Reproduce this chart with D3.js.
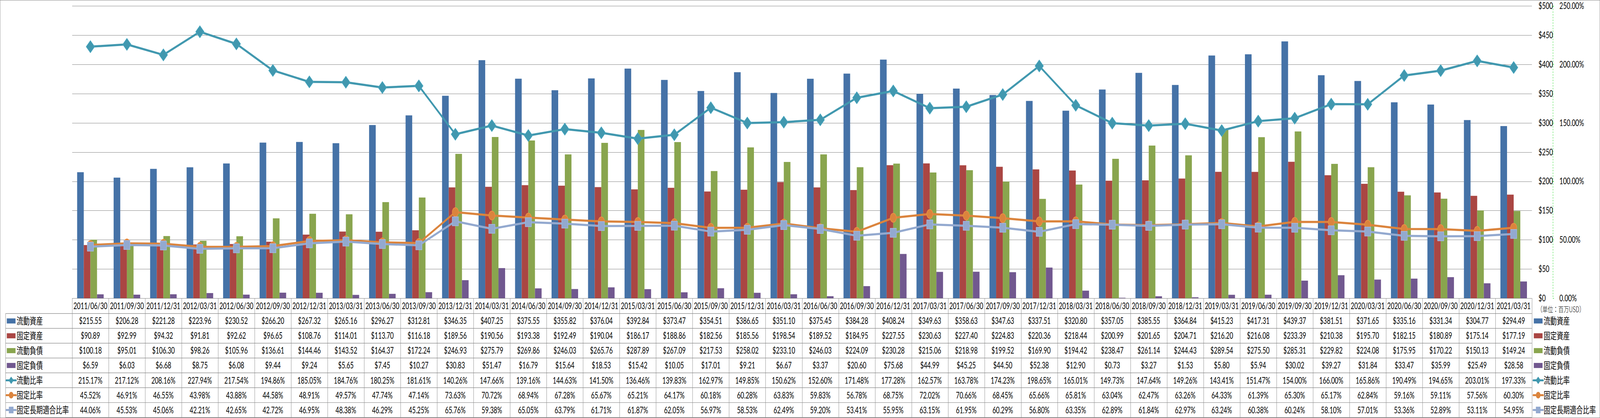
<!DOCTYPE html>
<html>
<head>
<meta charset="utf-8">
<script src="https://cdn.jsdelivr.net/npm/d3@7"></script>
<style>
  html, body { margin: 0; padding: 0; width: 100%; height: 100%; overflow: hidden; background: #fff; }
  #chart { display: block; width: 100vw; height: 100vh; }
  text { font-family: Lato, "Noto Sans CJK JP", sans-serif; fill: #000; }
  .jp { font-family: "Noto Sans CJK JP", sans-serif; }
</style>
</head>
<body>
<svg id="chart" viewBox="0 0 5876 1071" preserveAspectRatio="none"></svg>
<script>
'use strict';

var dates = ['2011/06/30','2011/09/30','2011/12/31','2012/03/31','2012/06/30','2012/09/30','2012/12/31','2013/03/31',
  '2013/06/30','2013/09/30','2013/12/31','2014/03/31','2014/06/30','2014/09/30','2014/12/31','2015/03/31',
  '2015/06/30','2015/09/30','2015/12/31','2016/03/31','2016/06/30','2016/09/30','2016/12/31','2017/03/31',
  '2017/06/30','2017/09/30','2017/12/31','2018/03/31','2018/06/30','2018/09/30','2018/12/31','2019/03/31',
  '2019/06/30','2019/09/30','2019/12/31','2020/03/31','2020/06/30','2020/09/30','2020/12/31','2021/03/31'];

var currentAssets = [215.55,206.28,221.28,223.96,230.52,266.20,267.32,265.16,296.27,312.81,346.35,407.25,375.55,355.82,376.04,392.84,
  373.47,354.51,386.65,351.10,375.45,384.28,408.24,349.63,358.63,347.63,337.51,320.80,357.05,385.55,364.84,415.23,
  417.31,439.37,381.51,371.65,335.16,331.34,304.77,294.49];
var fixedAssets = [90.89,92.99,94.32,91.81,92.62,96.65,108.76,114.01,113.70,116.18,189.56,190.56,193.38,192.49,190.04,186.17,
  188.86,182.56,185.56,198.54,189.52,184.95,227.55,230.63,227.40,224.83,220.36,218.44,200.99,201.65,204.71,216.20,
  216.08,233.39,210.38,195.70,182.15,180.89,175.14,177.19];
var currentLiabilities = [100.18,95.01,106.30,98.26,105.96,136.61,144.46,143.52,164.37,172.24,246.93,275.79,269.86,246.03,265.76,287.89,
  267.09,217.53,258.02,233.10,246.03,224.09,230.28,215.06,218.98,199.52,169.90,194.42,238.47,261.14,244.43,289.54,
  275.50,285.31,229.82,224.08,175.95,170.22,150.13,149.24];
var fixedLiabilities = [6.59,6.03,6.68,8.75,6.08,9.44,9.24,5.65,7.45,10.27,30.83,51.47,16.79,15.64,18.53,15.42,
  10.05,17.01,9.21,6.67,3.37,20.60,75.68,44.99,45.25,44.50,52.38,12.90,0.73,3.27,1.53,5.80,
  5.94,30.02,39.27,31.84,33.47,35.99,25.49,28.58];
var currentRatio = [215.17,217.12,208.16,227.94,217.54,194.86,185.05,184.76,180.25,181.61,140.26,147.66,139.16,144.63,141.50,136.46,
  139.83,162.97,149.85,150.62,152.60,171.48,177.28,162.57,163.78,174.23,198.65,165.01,149.73,147.64,149.26,143.41,
  151.47,154.00,166.00,165.86,190.49,194.65,203.01,197.33];
var fixedRatio = [45.52,46.91,46.55,43.98,43.88,44.58,48.91,49.57,47.74,47.14,73.63,70.72,68.94,67.28,65.67,65.21,
  64.17,60.18,60.28,63.83,59.83,56.78,68.75,72.02,70.66,68.45,65.66,65.81,63.04,62.47,63.26,64.33,
  61.39,65.30,65.17,62.84,59.16,59.11,57.56,60.30];
var fixedLongTermRatio = [44.06,45.53,45.06,42.21,42.65,42.72,46.95,48.38,46.29,45.25,65.76,59.38,65.05,63.79,61.71,61.87,
  62.05,56.97,58.53,62.49,59.20,53.41,55.95,63.15,61.95,60.29,56.80,63.35,62.89,61.84,62.97,63.24,
  60.38,60.24,58.10,57.01,53.36,52.89,53.11,54.95];

var dollarTicks = [0,50,100,150,200,250,300,350,400,450,500];
var percentTicks = [0,50,100,150,200,250];
var unitLabel = '（単位：百万USD）';

var barSeries = [
  {name: '流動資産', values: currentAssets, color: '#4572A7'},
  {name: '固定資産', values: fixedAssets, color: '#AA4643'},
  {name: '流動負債', values: currentLiabilities, color: '#89A54E'},
  {name: '固定負債', values: fixedLiabilities, color: '#71588F'}
];
var lineSeries = [
  {name: '流動比率', values: currentRatio, color: '#4198AF', marker: 'diamond'},
  {name: '固定比率', values: fixedRatio, color: '#DB843D', marker: 'circle'},
  {name: '固定長期適合比率', values: fixedLongTermRatio, color: '#93A9CF', marker: 'square'}
];

var svg = d3.select('#chart'),
    plot = {left: 265, right: 5626, top: 15.3, bottom: 764},
    grid = '#868686',
    headerBottom = 803.3,
    rowH = 38.03;

var x = d3.scaleBand().domain(dates).range([plot.left, plot.right]),
    xs = d3.scaleBand().domain(barSeries.map(function(s) { return s.name; }))
      .range([0, x.bandwidth()]).paddingOuter(0.75),
    y = d3.scaleLinear().domain([0, 500]).range([plot.bottom, plot.top]),
    yPct = d3.scaleLinear().domain([0, 250]).range([plot.bottom, plot.top]);

var money = function(v) { return '$' + d3.format('.2f')(v); },
    pct = function(v) { return d3.format('.2f')(v) + '%'; };

svg.append('rect')
  .attr('x', 0.5).attr('y', 0.5).attr('width', 5875).attr('height', 1070)
  .attr('fill', '#fff').attr('stroke', grid);

// horizontal gridlines
svg.append('g').selectAll('line')
  .data(dollarTicks.filter(function(d) { return d > 0; }))
  .enter().append('line')
    .attr('x1', plot.left).attr('x2', plot.right)
    .attr('y1', function(d) { return Math.round(y(d)) + 0.5; })
    .attr('y2', function(d) { return Math.round(y(d)) + 0.5; })
    .attr('stroke', grid).attr('stroke-width', 1.2);

// bars
var cats = svg.append('g').selectAll('g')
  .data(dates)
  .enter().append('g')
    .attr('transform', function(d) { return 'translate(' + x(d) + ',0)'; });

cats.selectAll('rect')
  .data(function(d, i) { return barSeries.map(function(s) { return {s: s, v: s.values[i]}; }); })
  .enter().append('rect')
    .attr('x', function(d) { return xs(d.s.name); })
    .attr('width', xs.bandwidth())
    .attr('y', function(d) { return y(d.v); })
    .attr('height', function(d) { return plot.bottom - y(d.v); })
    .attr('fill', function(d) { return d.s.color; });

// dollar axis (labels only)
var axL = svg.append('g')
  .attr('transform', 'translate(5650,0)')
  .call(d3.axisRight(y).tickValues(dollarTicks).tickSize(0).tickPadding(0)
    .tickFormat(function(d) { return '$' + d; }));
axL.select('.domain').remove();
axL.selectAll('text').attr('font-size', 23).attr('font-family', 'Lato').attr('fill', '#000');

// percent axis
var axR = svg.append('g')
  .attr('transform', 'translate(5703,0)')
  .call(d3.axisRight(yPct).tickValues(percentTicks).tickSizeInner(4).tickSizeOuter(4).tickPadding(20)
    .tickFormat(pct));
axR.select('.domain').attr('stroke', '#22DD22').attr('stroke-dasharray', '4,3').attr('stroke-width', 1.2);
axR.selectAll('.tick line').attr('stroke', '#22DD22').attr('stroke-width', 1.2);
axR.selectAll('text').attr('font-size', 23).attr('font-family', 'Lato').attr('fill', '#000');

function markerPath(type, r) {
  if (type === 'diamond') return 'M0,' + (-r) + 'L' + r + ',0L0,' + r + 'L' + (-r) + ',0Z';
  if (type === 'square') return 'M' + (-r) + ',' + (-r) + 'h' + (2 * r) + 'v' + (2 * r) + 'h' + (-2 * r) + 'Z';
  return d3.symbol().type(d3.symbolCircle).size(Math.PI * r * r)();
}
var markerR = {diamond: 15.5, circle: 11.5, square: 11.5};

// ratio lines
var line = d3.line()
  .x(function(d, i) { return x(dates[i]) + x.bandwidth() / 2; })
  .y(function(d) { return yPct(d); });

lineSeries.forEach(function(s) {
  var g = svg.append('g');
  g.append('path')
    .attr('d', line(s.values))
    .attr('fill', 'none')
    .attr('stroke', s.color)
    .attr('stroke-width', 5.5)
    .attr('stroke-linejoin', 'round');
  g.selectAll('path.mk')
    .data(s.values)
    .enter().append('path')
      .attr('class', 'mk')
      .attr('transform', function(d, i) {
        return 'translate(' + (x(dates[i]) + x.bandwidth() / 2) + ',' + yPct(d) + ')';
      })
      .attr('d', markerPath(s.marker, markerR[s.marker]))
      .attr('fill', s.color)
      .attr('stroke', d3.color(s.color).brighter(0.3))
      .attr('stroke-width', 1.5)
      .attr('stroke-linejoin', 'round');
});

// data table
var rows = barSeries.map(function(s) { return {s: s, kind: 'bar', fmt: money}; })
  .concat(lineSeries.map(function(s) { return {s: s, kind: 'line', fmt: pct}; }));
var tableBottom = headerBottom + rowH * rows.length;
var tbl = svg.append('g');

tbl.append('line')
  .attr('x1', plot.left).attr('x2', plot.right)
  .attr('y1', plot.bottom + 0.5).attr('y2', plot.bottom + 0.5)
  .attr('stroke', grid).attr('stroke-width', 1.2);

tbl.selectAll('line.h')
  .data(d3.range(rows.length + 1))
  .enter().append('line')
    .attr('class', 'h')
    .attr('x1', 20.5).attr('x2', plot.right)
    .attr('y1', function(i) { return headerBottom + i * rowH; })
    .attr('y2', function(i) { return headerBottom + i * rowH; })
    .attr('stroke', grid).attr('stroke-width', 1.2);

tbl.selectAll('line.v')
  .data(dates.map(function(d) { return x(d); }).concat([plot.right]))
  .enter().append('line')
    .attr('class', 'v')
    .attr('x1', function(d) { return Math.round(d) + 0.5; })
    .attr('x2', function(d) { return Math.round(d) + 0.5; })
    .attr('y1', plot.bottom).attr('y2', tableBottom)
    .attr('stroke', grid).attr('stroke-width', 1.2);

tbl.append('line')
  .attr('x1', 20.5).attr('x2', 20.5)
  .attr('y1', headerBottom).attr('y2', tableBottom)
  .attr('stroke', grid).attr('stroke-width', 1.2);

tbl.selectAll('text.date')
  .data(dates)
  .enter().append('text')
    .attr('class', 'date')
    .attr('x', function(d) { return x(d) + x.bandwidth() / 2; })
    .attr('y', (plot.bottom + headerBottom) / 2)
    .attr('dy', '0.36em')
    .attr('text-anchor', 'middle')
    .attr('font-size', 22.5)
    .text(function(d) { return d; });

rows.forEach(function(r, ri) {
  var cy = headerBottom + rowH * (ri + 0.5);
  tbl.append('g').selectAll('text')
    .data(r.s.values)
    .enter().append('text')
      .attr('x', function(d, i) { return x(dates[i]) + x.bandwidth() / 2; })
      .attr('y', cy)
      .attr('dy', '0.36em')
      .attr('text-anchor', 'middle')
      .attr('font-size', 22.5)
      .text(function(d) { return r.fmt(d); });
});

// legend keys: once inside the table, once on the right
function legendKey(g, r, kx, cy, tx) {
  if (r.kind === 'bar') {
    g.append('rect')
      .attr('x', kx).attr('y', cy - 6.5).attr('width', 32).attr('height', 13)
      .attr('fill', r.s.color);
  } else {
    g.append('line')
      .attr('x1', kx - 2).attr('x2', kx + 34).attr('y1', cy).attr('y2', cy)
      .attr('stroke', r.s.color).attr('stroke-width', 5).attr('stroke-linecap', 'round');
    g.append('path')
      .attr('transform', 'translate(' + (kx + 16) + ',' + cy + ')')
      .attr('d', markerPath(r.s.marker, r.s.marker === 'diamond' ? 9.5 : 8.5))
      .attr('fill', r.s.color)
      .attr('stroke-linejoin', 'round');
  }
  g.append('text')
    .attr('class', 'jp')
    .attr('x', tx).attr('y', cy)
    .attr('dy', '0.36em')
    .attr('font-size', 24)
    .text(r.s.name);
}

var legL = svg.append('g'), legR = svg.append('g');
rows.forEach(function(r, ri) {
  var cy = headerBottom + rowH * (ri + 0.5);
  legendKey(legL, r, 25, cy, 61);
  legendKey(legR, r, 5633, cy, 5669);
});

svg.append('text')
  .attr('class', 'jp')
  .attr('x', 5645).attr('y', 793)
  .attr('dy', '0.36em')
  .attr('font-size', 19.5)
  .attr('font-weight', 300)
  .text(unitLabel);
</script>
</body>
</html>
